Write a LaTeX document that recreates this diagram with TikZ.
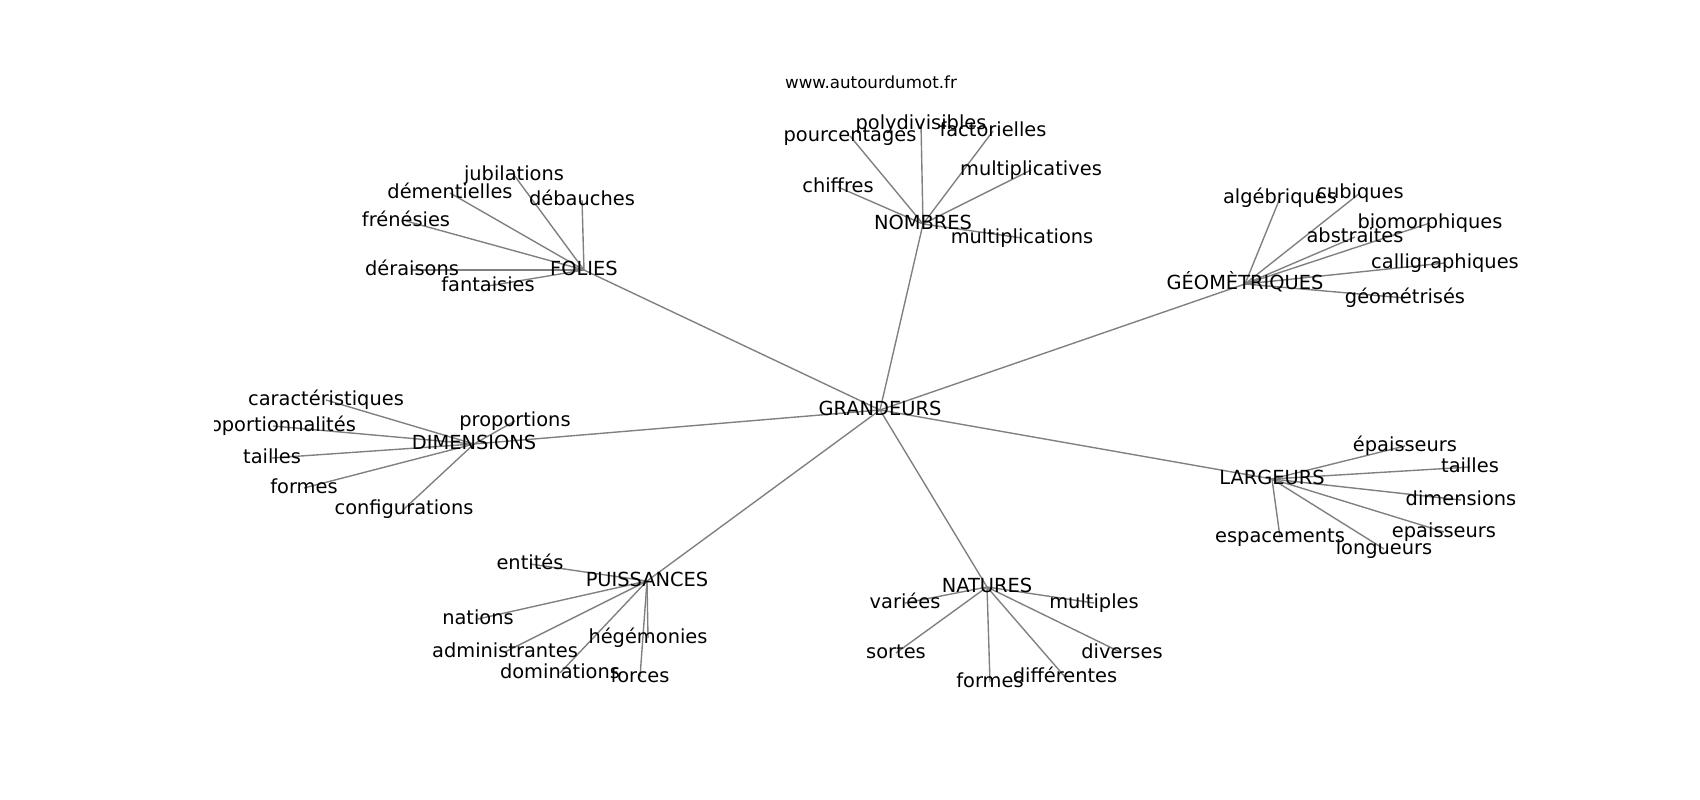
\documentclass[tikz,border=0pt]{standalone}
\usepackage{fontspec}
\setmainfont{DejaVu Sans}
\usepackage{tikz}
\usetikzlibrary{backgrounds}

\begin{document}
\begin{tikzpicture}[x=1pt,y=-1pt]
				\tikzstyle{every node}+=[inner sep=0pt, text height=14.7pt, text depth=4.6pt, font=\fontsize{19.4}{23}\selectfont]
				\tikzstyle{edge}=[gray, line width=1.39pt]
				\useasboundingbox (0,0) rectangle (1700,800);
				\node (www) at (871,83) {\fontsize{16.7}{20}\selectfont www.autourdumot.fr};
				\begin{scope}
				\clip (214,0) rectangle (1530,800);
				% centre
				\node (g) at (880,410) {GRANDEURS};
				% FOLIES
				\node (fol) at (584,270) {FOLIES};
				\node (fol1) at (514,175) {jubilations};
				\node (fol2) at (450,193) {démentielles};
				\node (fol3) at (582,200) {débauches};
				\node (fol4) at (406,221) {frénésies};
				\node (fol5) at (412,270) {déraisons};
				\node (fol6) at (488,286) {fantaisies};
				% NOMBRES
				\node (nom) at (923,224) {NOMBRES};
				\node (nom1) at (921,124) {polydivisibles};
				\node (nom2) at (850,136) {pourcentages};
				\node (nom3) at (993,131) {factorielles};
				\node (nom4) at (1031,170) {multiplicatives};
				\node (nom5) at (838,187) {chiffres};
				\node (nom6) at (1022,238) {multiplications};
				% GEOMETRIQUES
				\node (geo) at (1245,284) {GÉOMÈTRIQUES};
				\node (geo1) at (1280,198) {algébriques};
				\node (geo2) at (1360,193) {cubiques};
				\node (geo3) at (1430,223) {biomorphiques};
				\node (geo4) at (1355,237) {abstraites};
				\node (geo5) at (1445,263) {calligraphiques};
				\node (geo6) at (1405,298) {géométrisés};
				% DIMENSIONS
				\node (dim) at (474,444) {DIMENSIONS};
				\node (dim1) at (326,400) {caractéristiques};
				\node (dim2) at (273,426) {proportionnalités};
				\node (dim3) at (272,458) {tailles};
				\node (dim4) at (304,488) {formes};
				\node (dim5) at (404,509) {configurations};
				\node (dim6) at (515,421) {proportions};
				% LARGEURS
				\node (lar) at (1272,479) {LARGEURS};
				\node (lar1) at (1405,446) {épaisseurs};
				\node (lar2) at (1470,467) {tailles};
				\node (lar3) at (1461,500) {dimensions};
				\node (lar4) at (1444,532) {epaisseurs};
				\node (lar5) at (1280,537) {espacements};
				\node (lar6) at (1384,549) {longueurs};
				% PUISSANCES
				\node (pui) at (647,581) {PUISSANCES};
				\node (pui1) at (530,564) {entités};
				\node (pui2) at (478,619) {nations};
				\node (pui3) at (505,652) {administrantes};
				\node (pui4) at (560,673) {dominations};
				\node (pui5) at (648,638) {hégémonies};
				\node (pui6) at (640,677) {forces};
				% NATURES
				\node (nat) at (987,587) {NATURES};
				\node (nat1) at (905,603) {variées};
				\node (nat2) at (1094,603) {multiples};
				\node (nat3) at (896,653) {sortes};
				\node (nat4) at (1122,653) {diverses};
				\node (nat5) at (990,682) {formes};
				\node (nat6) at (1065,677) {différentes};
				\end{scope}
				% edges, under the labels
				\begin{pgfonlayer}{background}
				\foreach \h in {fol,nom,geo,dim,lar,pui,nat}
					\draw [edge] (g.center) -- (\h.center);
				\foreach \h in {fol,nom,geo,dim,lar,pui,nat}
					\foreach \i in {1,...,6}
						\draw [edge] (\h.center) -- (\h\i.center);
				\end{pgfonlayer}
\end{tikzpicture}
\end{document}
